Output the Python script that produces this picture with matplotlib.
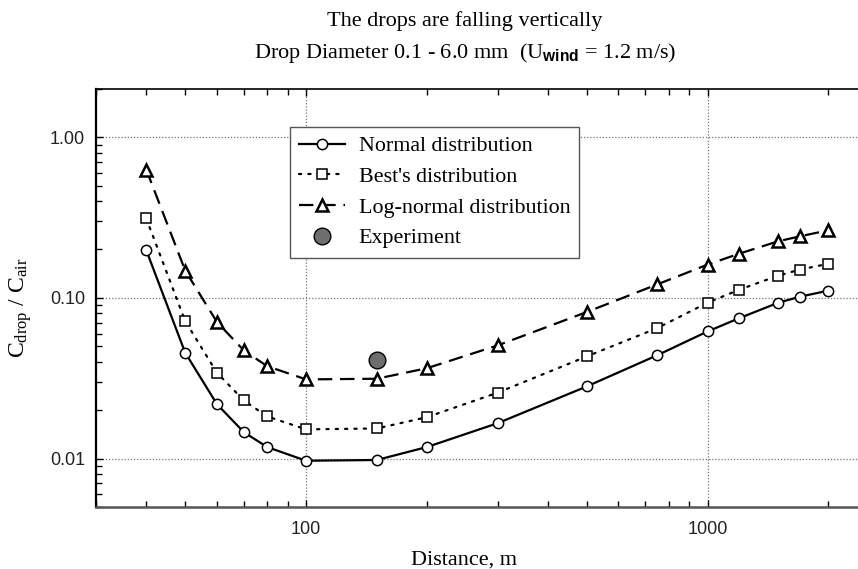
import numpy as np
import matplotlib
matplotlib.use("Agg")
import matplotlib.pyplot as plt
from matplotlib.ticker import LogLocator, FixedLocator, NullFormatter

plt.rcParams["mathtext.fontset"] = "custom"
plt.rcParams["mathtext.rm"] = "Liberation Serif"
plt.rcParams["mathtext.it"] = "Liberation Serif:italic"
plt.rcParams["mathtext.bf"] = "Liberation Sans:bold"

# Distance along the plume, m
distance = [40, 50, 60, 70, 80, 100, 150, 200, 300, 500, 750, 1000, 1200, 1500, 1700, 2000]

# C_drop / C_air for the three drop-size distributions
normal = [0.198, 0.0456, 0.0218, 0.0146, 0.0118, 0.0097, 0.0098, 0.0118, 0.0166,
          0.0281, 0.044, 0.0618, 0.0748, 0.0933, 0.1017, 0.111]
best = [0.312, 0.0717, 0.0342, 0.0230, 0.0183, 0.0152, 0.0154, 0.0181, 0.0257,
        0.0432, 0.0649, 0.0933, 0.1125, 0.1375, 0.150, 0.163]
lognormal = [0.629, 0.148, 0.0707, 0.0471, 0.0376, 0.0311, 0.0314, 0.0365, 0.0506,
             0.0816, 0.1214, 0.161, 0.1885, 0.225, 0.2416, 0.2634]

# measured point
exp_x = [150]
exp_y = [0.0408]

serif = ["Liberation Serif", "DejaVu Serif"]
sans = ["Liberation Sans", "DejaVu Sans"]

fig = plt.figure(figsize=(8.58, 5.69), dpi=100)
ax = fig.add_axes([0.112, 0.109, 0.888, 0.735])

ax.plot(distance, normal, "-", color="black", lw=1.6, marker="o", ms=7.4,
        mfc="white", mec="black", mew=1.1, label="Normal distribution", zorder=3)
ax.plot(distance, best, color="black", lw=1.6, dashes=(1, 3.2), dash_capstyle="round",
        marker="s", ms=7.2, mfc="white", mec="black", mew=1.1,
        label="Best's distribution", zorder=3)
ax.plot(distance, lognormal, color="black", lw=1.6, dashes=(6.5, 3.5),
        marker="^", ms=8, mfc="white", mec="black", mew=1.8,
        label="Log-normal distribution", zorder=3)
ax.plot(exp_x, exp_y, "o", ms=12, mfc="#6e6e6e", mec="black", mew=1.0,
        label="Experiment", zorder=4)

ax.set_xscale("log")
ax.set_yscale("log")
ax.set_xlim(30, 2370)
ax.set_ylim(0.005, 2)

ax.xaxis.set_major_locator(FixedLocator([100, 1000]))
ax.xaxis.set_minor_locator(LogLocator(base=10, subs=np.arange(2, 10)))
ax.xaxis.set_minor_formatter(NullFormatter())
ax.set_xticklabels(["100", "1000"])
ax.yaxis.set_major_locator(FixedLocator([0.01, 0.1, 1.0]))
ax.yaxis.set_minor_locator(LogLocator(base=10, subs=np.arange(2, 10)))
ax.yaxis.set_minor_formatter(NullFormatter())
ax.set_yticklabels(["0.01", "0.10", "1.00"])

ax.tick_params(which="both", direction="in", top=True, right=False,
               labelsize=13, colors="black")
ax.tick_params(axis="y", pad=8)
ax.tick_params(axis="x", pad=10)
ax.tick_params(which="major", length=5, width=1)
ax.tick_params(which="minor", length=4, width=1)
for lab in ax.get_xticklabels() + ax.get_yticklabels():
    lab.set_family(sans)
    lab.set_color("#222222")

ax.grid(True, which="major", color="#777777", lw=0.9, ls=(0, (1, 1.5)))

ax.spines["right"].set_visible(False)
ax.spines["top"].set_linewidth(1.2)
ax.spines["left"].set_linewidth(1.6)
ax.spines["bottom"].set_linewidth(1.8)
ax.spines["bottom"].set_color("#555555")

ax.set_xlabel("Distance, m", family=serif, fontsize=16)
ax.xaxis.set_label_coords(0.483, -0.105)
ax.set_ylabel(r"C$_{\mathrm{drop}}$ / C$_{\mathrm{air}}$", family=serif, fontsize=17)
ax.yaxis.set_label_coords(-0.082, 0.476)

fig.text(0.542, 0.963, "The drops are falling vertically", ha="center", va="center",
         family=serif, fontsize=16)
fig.text(0.542, 0.906, r"Drop Diameter 0.1 - 6.0 mm  (U$_{\mathbf{wind}}$ = 1.2 m/s)",
         ha="center", va="center", family=serif, fontsize=16)

leg = ax.legend(loc="upper left", bbox_to_anchor=(0.2546, 0.909), borderaxespad=0,
                fancybox=False, edgecolor="#555555", framealpha=1,
                prop={"family": serif, "size": 15.8}, handlelength=2.1,
                handletextpad=0.6, labelspacing=0.47, borderpad=0.42)
leg.get_frame().set_linewidth(1.0)

fig.savefig("out.png", dpi=100)
